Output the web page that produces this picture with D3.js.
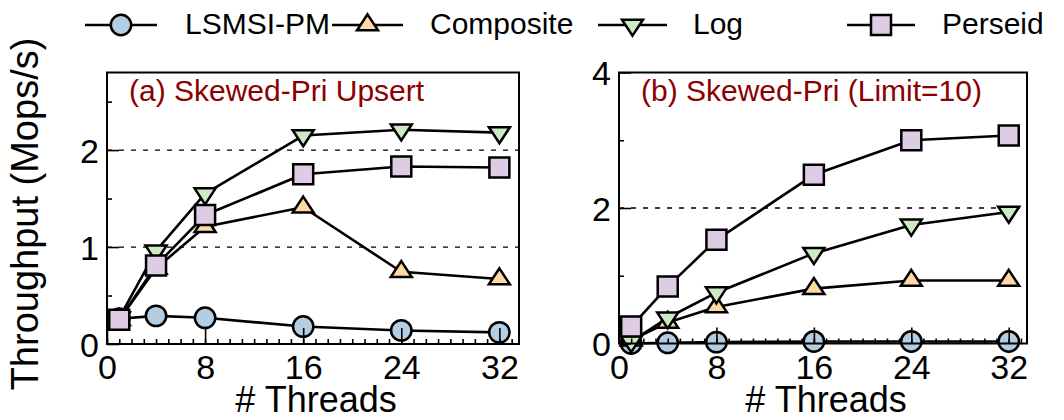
<!DOCTYPE html>
<html>
<head>
<meta charset="utf-8">
<script src="https://cdn.jsdelivr.net/npm/d3@7/dist/d3.min.js"></script>
<style>
  html, body { margin: 0; padding: 0; background: #fff; }
  svg { display: block; font-family: "Liberation Sans", Arial, Helvetica, sans-serif; }
</style>
</head>
<body>
<svg id="chart" width="1064" height="420"></svg>
<script>
// ---------------- data ----------------
const threads = [1, 4, 8, 16, 24, 32];
const seriesNames = ["LSMSI-PM", "Composite", "Log", "Perseid"];

// (a) Skewed-Pri Upsert
const lsmsiA     = [0.26, 0.29, 0.27, 0.18, 0.14, 0.12];
const compositeA = [0.25, 0.78, 1.21, 1.41, 0.745, 0.67];
const logA       = [0.27, 0.96, 1.55, 2.15, 2.21, 2.18];
const perseidA   = [0.25, 0.81, 1.33, 1.75, 1.83, 1.82];

// (b) Skewed-Pri (Limit=10)
const lsmsiB     = [0.0, 0.01, 0.02, 0.03, 0.03, 0.03];
const compositeB = [0.05, 0.31, 0.54, 0.81, 0.93, 0.93];
const logB       = [0.03, 0.38, 0.75, 1.33, 1.75, 1.94];
const perseidB   = [0.25, 0.84, 1.53, 2.49, 3.0, 3.07];

const titleA = "(a) Skewed-Pri Upsert";
const titleB = "(b) Skewed-Pri (Limit=10)";
const xTicks = [0, 8, 16, 24, 32];
const xMinorTicks = d3.range(0, 34, 1);
const yTicksA = [0, 1, 2];
const yMinorA = [0.5, 1.5, 2.5];
const yGridA = [1, 2];
const yTicksB = [0, 2, 4];
const yMinorB = [1, 3];
const yGridB = [2];
const yLabel = "Throughput (Mops/s)";
const xLabel = "# Threads";

// ---------------- styles ----------------
const fills = ["#b3cde3", "#fed9a6", "#ccebc5", "#decbe4"];
const shapes = ["circle", "up", "down", "square"];
const titleColor = "#8b0000";

const svg = d3.select("#chart");

function markerPath(shape) {
  if (shape === "circle") return d3.symbol(d3.symbolCircle, Math.PI * 10.2 * 10.2)();
  if (shape === "square") { const s = 10; return `M${-s},${-s}H${s}V${s}H${-s}Z`; }
  const w = 10.5, h = 16;
  if (shape === "up") return `M0,${-h * 2 / 3}L${w},${h / 3}L${-w},${h / 3}Z`;
  return `M0,${h * 2 / 3}L${w},${-h / 3}L${-w},${-h / 3}Z`;
}

function drawMarker(g, shape, fill, x, y) {
  g.append("path")
    .attr("d", markerPath(shape))
    .attr("transform", `translate(${x},${y})`)
    .attr("fill", fill)
    .attr("stroke", "#000")
    .attr("stroke-width", 2.5)
    .attr("stroke-linejoin", "miter");
}

function panel(cfg) {
  const g = svg.append("g");
  const x = d3.scaleLinear().domain([0, cfg.xMax]).range([cfg.left, cfg.right]);
  const y = d3.scaleLinear().domain([0, cfg.yMax]).range([cfg.bottom, cfg.top]);

  // grid
  g.selectAll(".grid").data(cfg.grid).enter().append("line")
    .attr("x1", cfg.left).attr("x2", cfg.right)
    .attr("y1", d => y(d)).attr("y2", d => y(d))
    .attr("stroke", "#000").attr("stroke-width", 1.3)
    .attr("stroke-dasharray", "5,7");

  // series lines and markers
  const line = d3.line().x((d, i) => x(threads[i])).y(d => y(d));
  cfg.series.forEach((vals) => {
    g.append("path").datum(vals)
      .attr("d", line)
      .attr("fill", "none").attr("stroke", "#000").attr("stroke-width", 2.6)
      .attr("stroke-linejoin", "round");
  });
  cfg.series.forEach((vals, si) => {
    vals.forEach((v, i) => drawMarker(g, shapes[si], fills[si], x(threads[i]), y(v)));
  });

  // axes (ticks inside)
  const xAxis = d3.axisBottom(x).tickValues(xTicks).tickSizeInner(-16).tickSizeOuter(0)
    .tickPadding(11).tickFormat(d3.format("d"));
  const xMinor = d3.axisBottom(x).tickValues(xMinorTicks).tickSizeInner(-5).tickSizeOuter(0).tickFormat("");
  const yAxis = d3.axisLeft(y).tickValues(cfg.yTicks).tickSizeInner(-12).tickSizeOuter(0)
    .tickPadding(8).tickFormat(d3.format("d"));
  const yMinor = d3.axisLeft(y).tickValues(cfg.yMinor).tickSizeInner(-5).tickSizeOuter(0).tickFormat("");

  const gx = g.append("g").attr("transform", `translate(0,${cfg.bottom})`).call(xAxis);
  const gxm = g.append("g").attr("transform", `translate(0,${cfg.bottom})`).call(xMinor);
  const gy = g.append("g").attr("transform", `translate(${cfg.left},0)`).call(yAxis);
  const gym = g.append("g").attr("transform", `translate(${cfg.left},0)`).call(yMinor);
  [gx, gxm, gy, gym].forEach(a => {
    a.select(".domain").remove();
    a.selectAll(".tick line").attr("stroke", "#000").attr("stroke-width", 1.6);
    a.selectAll("text").attr("fill", "#000").style("font-size", "34px")
      .style("font-family", '"Liberation Sans", Arial, sans-serif');
  });
  gx.selectAll("text").attr("dy", "0.71em");
  gy.selectAll("text").attr("dy", "0.36em");

  // frame
  g.append("rect")
    .attr("x", cfg.left).attr("y", cfg.top)
    .attr("width", cfg.right - cfg.left).attr("height", cfg.bottom - cfg.top)
    .attr("fill", "none").attr("stroke", "#000").attr("stroke-width", 2);

  // title
  g.append("text").attr("x", cfg.left + 22).attr("y", 101)
    .attr("fill", titleColor).style("font-size", "30px").text(cfg.title);

  // x label
  g.append("text").attr("x", (cfg.left + cfg.right) / 2 + 3).attr("y", 412)
    .attr("text-anchor", "middle").style("font-size", "36px").text(xLabel);
}

panel({ left: 107, right: 519, top: 72.5, bottom: 344, xMax: 33.6, yMax: 2.8,
        yTicks: yTicksA, yMinor: yMinorA, grid: yGridA, title: titleA,
        series: [lsmsiA, compositeA, logA, perseidA] });
panel({ left: 619, right: 1027, top: 72.5, bottom: 343.5, xMax: 33.5, yMax: 4,
        yTicks: yTicksB, yMinor: yMinorB, grid: yGridB, title: titleB,
        series: [lsmsiB, compositeB, logB, perseidB] });

// y label
svg.append("text")
  .attr("transform", "translate(38,214) rotate(-90)")
  .attr("text-anchor", "middle").style("font-size", "38px").text(yLabel);

// legend
const legendLineX = [[85, 157], [332, 403], [598, 667], [847, 915]];
const legendTextX = [185, 430, 693, 942];
const lg = svg.append("g");
seriesNames.forEach((name, i) => {
  const [a, b] = legendLineX[i];
  lg.append("line").attr("x1", a).attr("x2", b).attr("y1", 25).attr("y2", 25)
    .attr("stroke", "#000").attr("stroke-width", 2.6);
  drawMarker(lg, shapes[i], fills[i], (a + b) / 2, 25);
  lg.append("text").attr("x", legendTextX[i]).attr("y", 34)
    .style("font-size", "30px").text(name);
});
</script>
</body>
</html>
